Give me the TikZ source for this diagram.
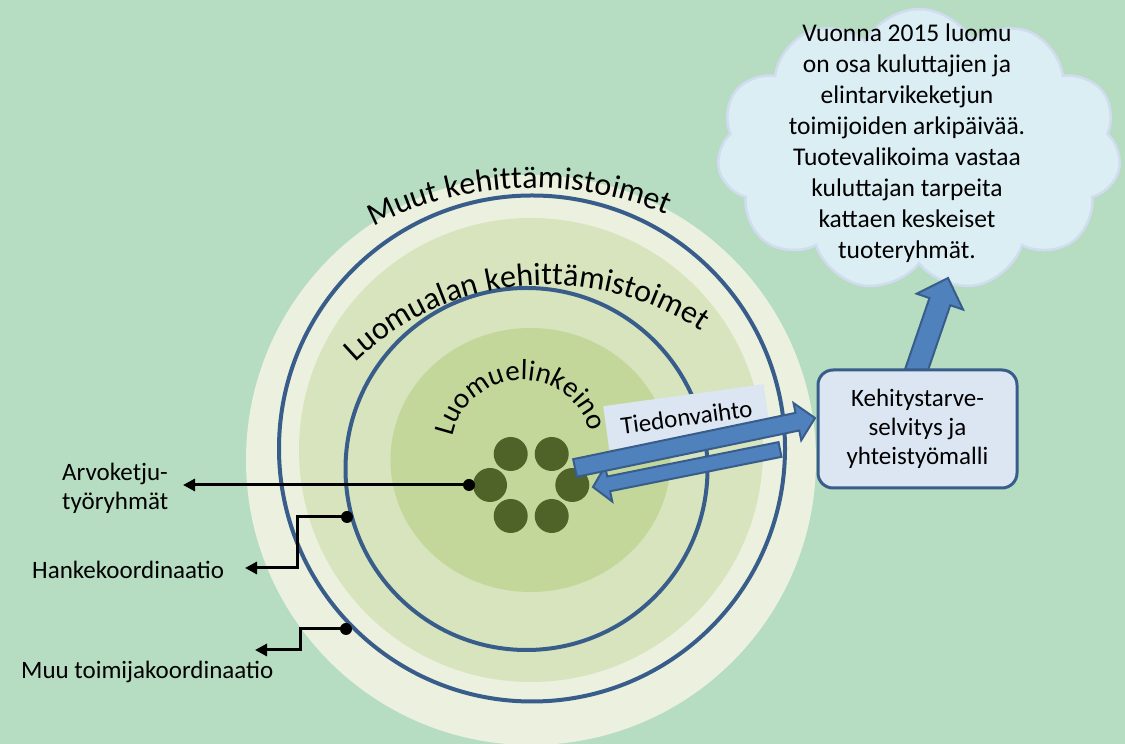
\documentclass[tikz,border=0pt]{standalone}
\usepackage{fontspec}
\setmainfont{Carlito}
\usetikzlibrary{calc,decorations.text,shapes.symbols,arrows.meta}
\definecolor{bg}{RGB}{182,221,193}
\definecolor{cream}{RGB}{235,241,222}
\definecolor{ringtwo}{RGB}{216,228,189}
\definecolor{innerdisc}{RGB}{196,215,155}
\definecolor{dotgreen}{RGB}{79,98,40}
\definecolor{ringblue}{RGB}{56,93,138}
\definecolor{arrowblue}{RGB}{79,129,189}
\definecolor{arrowedge}{RGB}{56,93,138}
\definecolor{boxfill}{RGB}{220,230,242}
\definecolor{cloudfill}{RGB}{219,238,244}
\definecolor{cloudedge}{RGB}{210,220,240}
\newcommand{\fontA}{\fontsize{32}{38}\selectfont}
\newcommand{\fontB}{\fontsize{32}{38}\selectfont}
\newcommand{\fontC}{\fontsize{29}{34}\selectfont}
\newcommand{\fontLabel}{\fontsize{25}{29}\selectfont}
\newcommand{\fontCloud}{\fontsize{25.5}{31}\selectfont}
\newcommand{\blockarrow}[5]{%
  \path ($(#2)!#5!(#1)$) coordinate (bah);
  \filldraw[blockarr] ($(#1)!#3!90:(#2)$) -- ($(bah)!#3!90:(#2)$) -- ($(bah)!#4!90:(#2)$) -- (#2) -- ($(bah)!#4!-90:(#2)$) -- ($(bah)!#3!-90:(#2)$) -- ($(#1)!#3!-90:(#2)$) -- cycle;}
\begin{document}
\begin{tikzpicture}[x=1pt,y=1pt,
  blockarr/.style={fill=arrowblue, draw=arrowedge, line width=2pt, line join=miter},
  ringline/.style={draw=ringblue, line width=4pt},
  dotc/.style={fill=dotgreen},
  conn/.style={line width=3pt, -{Triangle[length=12pt,width=12pt]}},
  pin/.style={fill=black},
  lbl/.style={font=\fontLabel, inner sep=0pt, anchor=west, align=left},
  arctext/.style={decorate, decoration={text along path, text align=center, text={#1}}}
]
\useasboundingbox (0,0) rectangle (1125,744);
\clip (0,0) rectangle (1125,744);
\fill[bg] (0,0) rectangle (1125,744);

% rings
\fill[cream] (531,284) circle[radius=285pt];
\fill[ringtwo] (531,294) circle[radius=232pt];
\draw[ringline] (532,295.5) circle[radius=253pt];
\fill[innerdisc] (530.5,284) ellipse[x radius=140pt, y radius=132pt];
\draw[ringline] (526.5,275) circle[radius=181pt];

% dots
\foreach \p/\n in {{510.7,290}/dA,{551.7,290}/dB,{490,259}/dC,{572.3,259}/dD,{510.7,228}/dE,{551.7,228}/dF}{
  \fill[dotc] (\p) circle[radius=17pt] coordinate (\n);
}

% arc texts
\begingroup\fontA
\path[arctext={Muut kehittämistoimet}] ($(533,206)+(152.35:350pt)$) arc[start angle=152.35, end angle=32.35, radius=350pt];
\endgroup
\begingroup\fontB
\path[arctext={Luomualan kehittämistoimet}] ($(548,181)+(165.2:278pt)$) arc[start angle=165.2, end angle=25.2, radius=278pt];
\endgroup
\begingroup\fontC
\path[arctext={Luomuelinkeino}] ($(522,293.7)+(192:70.3pt)$) arc[start angle=192, end angle=-8, radius=70.3pt];
\endgroup

% left connectors
\coordinate (d1) at (469,259);
\coordinate (e1) at (183,259);
\coordinate (d2) at (347,227);
\coordinate (k2) at (297,176);
\coordinate (e2) at (245,176);
\coordinate (d3) at (346,115);
\coordinate (k3) at (300,94);
\coordinate (e3) at (255,94);
\draw[conn] (d1) -- (e1);
\draw[conn] (d2) -| (k2) -- (e2);
\draw[conn] (d3) -| (k3) -- (e3);
\fill[pin] (d1) circle[radius=6pt];
\fill[pin] (d2) circle[radius=6pt];
\fill[pin] (d3) circle[radius=6pt];
\node[lbl] (arvo) at (62,256) {Arvoketju-\\työryhmät};
\node[lbl] (hanke) at (32,174) {Hankekoordinaatio};
\node[lbl] (muu) at (21,72) {Muu toimijakoordinaatio};

% Tiedonvaihto
\node[fill=boxfill, rotate=7.8, minimum width=162pt, minimum height=44pt, inner sep=0pt, font=\fontLabel] (tag) at (686.5,327) {Tiedonvaihto};

% block arrows
\coordinate (a2s) at (780,294.5);
\coordinate (a2t) at (593,257);
\blockarrow{a2s}{a2t}{7.5pt}{18pt}{16pt}
\coordinate (a1s) at (575,276);
\coordinate (a1t) at (815,326);
\blockarrow{a1s}{a1t}{9pt}{19pt}{18pt}

% cloud
\node[cloud, cloud puffs=11, cloud puff arc=125, cloud ignores aspect, minimum width=404pt, minimum height=282pt, fill=cloudfill, draw=cloudedge, line width=2.5pt] (cloud) at (919,594) {};
\node[align=center, font=\fontCloud, inner sep=0pt] (cloudtext) at (907,600.5) {Vuonna 2015 luomu\\on osa kuluttajien ja\\elintarvikeketjun\\toimijoiden arkipäivää.\\Tuotevalikoima vastaa\\kuluttajan tarpeita\\kattaen keskeiset\\tuoteryhmät.};

% up arrow
\coordinate (a3s) at (913,364);
\coordinate (a3t) at (948,466);
\blockarrow{a3s}{a3t}{11pt}{24.5pt}{25pt}

% box
\node[draw=arrowedge, fill=boxfill, line width=3pt, rounded corners=15pt, minimum width=199pt, minimum height=118pt, align=center, font=\fontLabel, inner sep=0pt] (box) at (917.5,315) {Kehitystarve-\\selvitys ja\\yhteistyömalli};
\end{tikzpicture}
\end{document}
